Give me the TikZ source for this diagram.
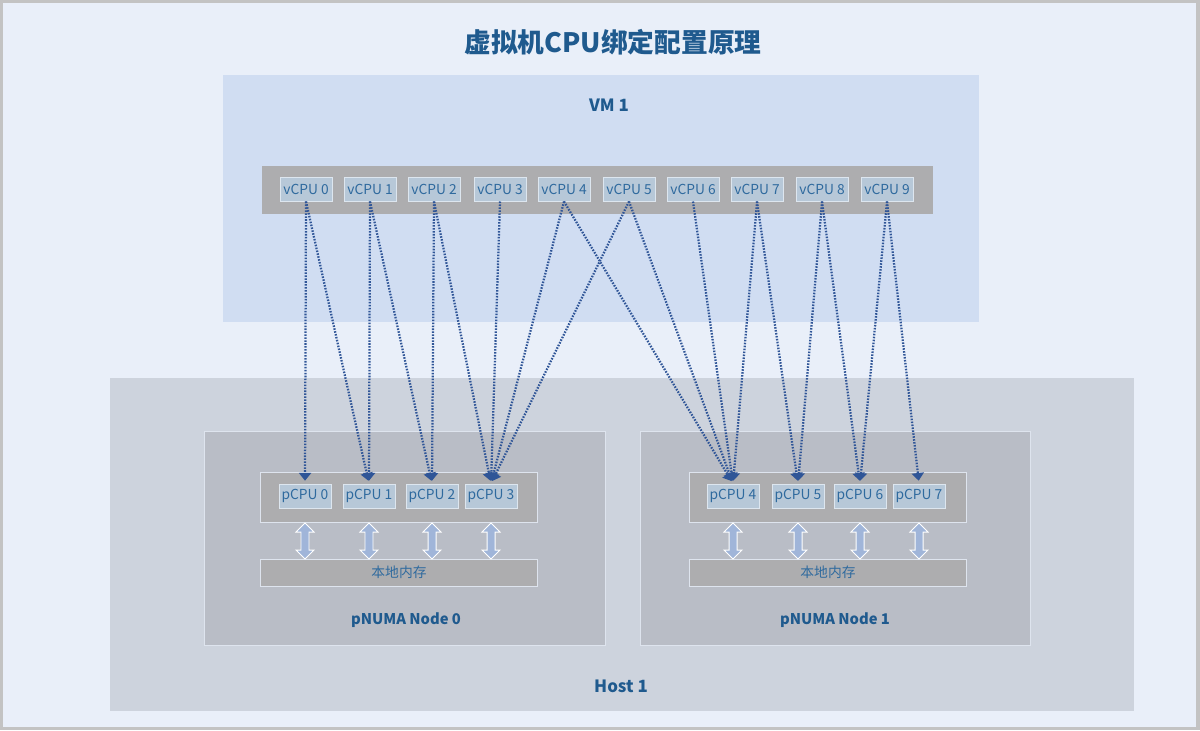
\documentclass[tikz,border=0pt]{standalone}
\usepackage{fontspec}
\setmainfont{Noto Sans CJK SC}
\usetikzlibrary{arrows.meta,calc}
\definecolor{framegray}{HTML}{C3C3C3}
\definecolor{bgblue}{HTML}{E9EFF9}
\definecolor{vmfill}{HTML}{D0DDF2}
\definecolor{hostfill}{HTML}{CDD3DD}
\definecolor{numafill}{HTML}{B9BDC6}
\definecolor{barfill}{HTML}{ADADAF}
\definecolor{cpufill}{HTML}{B7C8D8}
\definecolor{cpuborder}{HTML}{DDE6EF}
\definecolor{cputext}{HTML}{2F6A9E}
\definecolor{titletext}{HTML}{1F5A8E}
\definecolor{linkblue}{HTML}{2F5597}
\definecolor{memarrowfill}{HTML}{A0B5D9}
\definecolor{lightedge}{HTML}{DEE4EE}
\newcommand\memarrow[1]{%
  \filldraw[fill=memarrowfill, draw=white, line width=0.7pt]
    ($(#1)+(0,1)$) -- ++(9,9) -- ++(-5,0) -- ++(0,18) -- ++(5,0) -- ++(-9,9)
    -- ++(-9,-9) -- ++(5,0) -- ++(0,-18) -- ++(-5,0) -- cycle;}
\begin{document}
\begin{tikzpicture}[x=0.025cm,y=-0.025cm,
  container/.style={inner sep=0, outer sep=0},
  cpu/.style={draw=cpuborder, fill=cpufill, line width=0.7pt, text=cputext,
    font=\fontsize{9.8}{11}\selectfont, minimum width=1.3cm, minimum height=0.6cm, inner sep=0},
  biglabel/.style={text=titletext, font=\fontsize{12}{14}\selectfont\bfseries},
  numalabel/.style={text=titletext, font=\fontsize{10.5}{12}\selectfont\bfseries},
  link/.style={draw=linkblue, line width=1.6pt, dash pattern=on 1.1pt off 1.0pt,
    -{Triangle[width=8.5pt,length=5.5pt]}, shorten >=2pt}
]
\fill[framegray] (0,0) rectangle (1200,730);
\fill[bgblue] (3,3) rectangle (1196,727);
\useasboundingbox (0,0) rectangle (1200,730);

\node[text=titletext, font=\fontsize{19}{23}\selectfont\bfseries] (title) at (613,42) {虚拟机CPU绑定配置原理};

% VM
\node[container, fill=vmfill, minimum width=18.9cm, minimum height=6.175cm] (vm) at (601,198.5) {};
\node[biglabel] (vmlabel) at (609,105) {VM 1};
\node[container, fill=barfill, minimum width=16.775cm, minimum height=1.2cm] (vbar) at (597.5,190) {};
\foreach \i/\x in {0/306,1/370,2/434,3/500,4/564,5/629,6/693,7/757,8/822,9/887}
  \node[cpu] (v\i) at (\x,189) {vCPU \i};

% Host
\node[container, fill=hostfill, minimum width=25.6cm, minimum height=8.325cm] (host) at (622,544.5) {};
\node[biglabel] (hostlabel) at (621,686) {Host 1};

\node[container, fill=numafill, draw=lightedge, line width=0.7pt, minimum width=10cm, minimum height=5.325cm] (numa0) at (405,538.5) {};
\node[container, fill=numafill, draw=lightedge, line width=0.7pt, minimum width=9.725cm, minimum height=5.325cm] (numa1) at (835.5,538.5) {};
\node[numalabel] (numa0label) at (406,620) {pNUMA Node 0};
\node[numalabel] (numa1label) at (835,620) {pNUMA Node 1};

\node[container, fill=barfill, draw=lightedge, line width=0.7pt, minimum width=6.9cm, minimum height=1.25cm] (pbar0) at (399,497) {};
\node[container, fill=barfill, draw=lightedge, line width=0.7pt, minimum width=6.9cm, minimum height=1.25cm] (pbar1) at (828,497) {};
\node[container, fill=barfill, draw=lightedge, line width=0.7pt, minimum width=6.9cm, minimum height=0.675cm,
  text=cputext, font=\fontsize{9.8}{11}\selectfont] (mem0) at (399,572.5) {本地内存};
\node[container, fill=barfill, draw=lightedge, line width=0.7pt, minimum width=6.9cm, minimum height=0.675cm,
  text=cputext, font=\fontsize{9.8}{11}\selectfont] (mem1) at (828,572.5) {本地内存};

\foreach \i/\x in {0/305,1/369,2/432,3/491,4/733,5/798,6/860,7/919}
  \node[cpu] (p\i) at (\x,496) {pCPU \i};

% memory arrows
\foreach \i in {0,1,2,3} {\memarrow{p\i |- pbar0.south}}
\foreach \i in {4,5,6,7} {\memarrow{p\i |- pbar1.south}}

% bindings
\foreach \v/\p in {0/0,0/1,1/1,1/2,2/2,2/3,3/3,4/3,4/4,5/3,5/4,6/4,7/4,7/5,8/5,8/6,9/6,9/7}
  \draw[link] (v\v.south) -- (p\p.north);
\end{tikzpicture}
\end{document}
